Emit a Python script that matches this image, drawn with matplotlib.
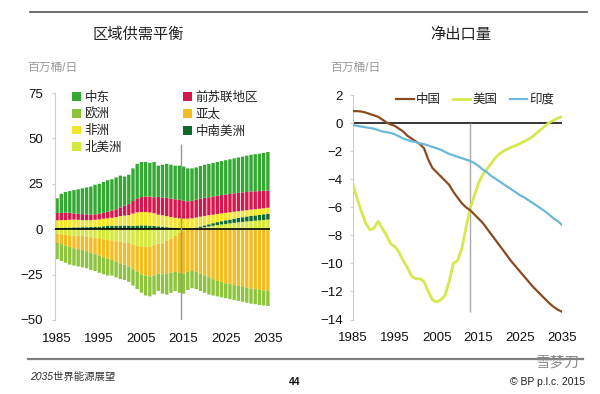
import numpy as np
import matplotlib
matplotlib.use('Agg')
import matplotlib.pyplot as plt
from matplotlib.lines import Line2D

plt.rcParams['font.family'] = ['Liberation Sans', 'Noto Sans CJK SC', 'DejaVu Sans']

years = np.arange(1985, 2036)

# 区域供需平衡 (百万桶/日), net exports (+) / net imports (-)
middle_east = [8.1, 10.5, 11.3, 12.0, 12.8, 13.5, 14.2, 14.8, 15.5, 16.3,
               16.4, 17.0, 17.4, 17.3, 17.5, 17.5, 16.0, 16.2, 18.0, 19.0,
               19.3, 19.0, 18.5, 19.4, 17.2, 18.1, 18.7, 18.7, 18.5, 18.8,
               18.9, 18.1, 17.9, 17.8, 18.0, 18.2, 18.4, 18.5, 18.6, 18.7,
               18.9, 19.1, 19.3, 19.5, 19.7, 20.0, 20.3, 20.4, 20.6, 20.8, 21.2]
fsu = [4.0, 4.0, 4.2, 3.8, 3.4, 3.3, 3.3, 3.2, 3.0, 3.0,
       3.2, 3.2, 3.6, 3.9, 4.3, 4.8, 5.5, 6.0, 6.9, 7.7,
       8.2, 8.6, 8.8, 8.8, 9.8, 9.7, 10.1, 10.1, 10.2, 10.2,
       9.8, 9.6, 9.6, 9.8, 9.9, 10.0, 9.9, 10.0, 10.0, 10.1,
       10.1, 10.1, 10.1, 10.1, 10.1, 10.0, 9.9, 9.9, 9.7, 9.7, 9.5]
africa = [4.1, 4.2, 4.1, 4.3, 4.3, 4.2, 3.9, 3.9, 3.8, 3.9,
          4.0, 4.2, 4.2, 4.4, 4.8, 5.2, 5.5, 5.8, 6.8, 7.3,
          7.4, 7.3, 7.3, 7.0, 6.4, 6.3, 6.1, 5.8, 5.6, 5.5,
          5.4, 5.5, 5.6, 5.5, 5.4, 5.2, 5.0, 4.7, 4.5, 4.3,
          4.1, 4.0, 3.8, 3.7, 3.6, 3.5, 3.5, 3.4, 3.4, 3.3, 3.3]
s_c_america = [0.8, 0.8, 0.9, 0.9, 1.0, 1.0, 1.1, 1.1, 1.2, 1.3,
               1.4, 1.6, 1.8, 1.9, 1.9, 2.0, 2.0, 2.0, 1.8, 2.0,
               2.1, 2.1, 1.9, 1.8, 1.6, 1.4, 1.1, 0.9, 0.7, 0.5,
               0.4, 0.3, 0.4, 0.6, 0.8, 1.0, 1.2, 1.4, 1.6, 1.8,
               2.0, 2.1, 2.3, 2.4, 2.6, 2.7, 2.8, 2.9, 3.0, 3.1, 3.2]
north_america = [-2.5, -2.8, -3.0, -3.4, -3.8, -3.8, -3.6, -4.0, -4.5, -5.0,
                 -5.0, -5.5, -6.0, -6.3, -6.7, -7.0, -7.5, -7.6, -8.5, -9.3,
                 -9.8, -9.9, -9.7, -8.8, -8.0, -7.8, -6.5, -5.3, -3.8, -2.0,
                 -0.8, -0.3, 0.0, 0.3, 0.7, 1.1, 1.5, 1.9, 2.3, 2.6,
                 2.9, 3.2, 3.5, 3.8, 4.0, 4.3, 4.5, 4.7, 4.9, 5.1, 5.3]
asia_pacific = [-5.0, -5.4, -6.0, -6.4, -6.7, -7.2, -7.9, -8.1, -8.5, -8.8,
                -9.5, -10.0, -10.3, -10.7, -11.3, -11.8, -12.0, -12.9, -13.5, -14.2,
                -15.2, -15.6, -16.3, -16.7, -16.5, -17.2, -18.0, -18.7, -19.7, -22.0,
                -23.7, -23.2, -23.0, -23.5, -24.5, -25.5, -26.5, -27.5, -28.5, -29.0,
                -29.8, -30.3, -30.8, -31.3, -31.8, -32.3, -32.7, -33.0, -33.4, -33.7, -34.0]
europe = [-9.0, -9.3, -9.5, -9.7, -9.5, -9.5, -9.5, -9.4, -9.5, -9.2,
          -9.5, -9.3, -9.2, -8.5, -8.5, -8.7, -8.5, -8.5, -9.0, -9.5,
          -10.0, -11.0, -11.0, -10.5, -9.5, -10.5, -11.5, -11.0, -10.5, -11.0,
          -11.0, -10.0, -9.5, -9.5, -9.5, -9.5, -9.5, -9.0, -8.5, -8.5,
          -8.2, -8.2, -8.2, -8.2, -8.2, -8.2, -8.3, -8.3, -8.3, -8.3, -8.3]

# 净出口量 (百万桶/日)
china = [0.85, 0.85, 0.82, 0.75, 0.65, 0.55, 0.45, 0.25, 0.05, -0.1,
         -0.2, -0.4, -0.6, -0.9, -1.1, -1.3, -1.5, -1.8, -2.6, -3.2,
         -3.5, -3.8, -4.1, -4.4, -4.9, -5.3, -5.7, -6.0, -6.2, -6.5,
         -6.8, -7.1, -7.5, -7.9, -8.3, -8.7, -9.1, -9.5, -9.9, -10.25,
         -10.6, -10.95, -11.3, -11.65, -11.95, -12.25, -12.55, -12.85, -13.1, -13.3, -13.45]
usa = [-4.4, -5.4, -6.3, -7.1, -7.6, -7.5, -7.0, -7.5, -8.0, -8.6,
       -8.8, -9.2, -9.8, -10.3, -10.9, -11.1, -11.1, -11.3, -12.0, -12.6,
       -12.75, -12.6, -12.3, -11.3, -10.0, -9.8, -9.0, -7.5, -6.1, -5.2,
       -4.3, -3.7, -3.3, -2.9, -2.5, -2.2, -2.0, -1.85, -1.7, -1.6,
       -1.45, -1.3, -1.15, -0.95, -0.7, -0.45, -0.2, 0.05, 0.2, 0.35, 0.45]
india = [-0.15, -0.2, -0.25, -0.3, -0.35, -0.4, -0.5, -0.6, -0.65, -0.7,
         -0.8, -0.95, -1.1, -1.2, -1.3, -1.35, -1.45, -1.5, -1.6, -1.7,
         -1.8, -1.9, -2.05, -2.2, -2.3, -2.4, -2.5, -2.6, -2.7, -2.85,
         -3.05, -3.3, -3.5, -3.75, -3.95, -4.15, -4.35, -4.55, -4.75, -4.95,
         -5.15, -5.3, -5.5, -5.7, -5.9, -6.1, -6.3, -6.55, -6.8, -7.0, -7.25]

c_me = '#35a834'
c_fsu = '#d6174e'
c_eu = '#8dc43c'
c_ap = '#f2bd22'
c_af = '#f3e52a'
c_sca = '#0f6a2e'
c_na = '#d5e83c'

fig = plt.figure(figsize=(6, 3.94), dpi=100)

# ---- left: stacked bars
ax1 = fig.add_axes([55/600, 1-320/394, 215/600, 227/394])
na = np.array(north_america)
na_pos = np.clip(na, 0, None)
na_neg = np.clip(na, None, 0)
w = 0.8

bottom = np.zeros(len(years))
handles = {}
for name, vals, col in [('北美洲', na_pos, c_na), ('中南美洲', s_c_america, c_sca),
                        ('非洲', africa, c_af), ('前苏联地区', fsu, c_fsu),
                        ('中东', middle_east, c_me)]:
    vals = np.array(vals)
    b = ax1.bar(years, vals, bottom=bottom, width=w, color=col, linewidth=0, snap=False)
    handles[name] = b
    bottom = bottom + vals

bottom = np.zeros(len(years))
for name, vals, col in [('北美洲', na_neg, c_na), ('亚太', asia_pacific, c_ap),
                        ('欧洲', europe, c_eu)]:
    vals = np.array(vals)
    b = ax1.bar(years, vals, bottom=bottom, width=w, color=col, linewidth=0, snap=False)
    if name not in handles:
        handles[name] = b
    bottom = bottom + vals

ax1.axhline(0, color='black', lw=1.2, zorder=4)
ax1.vlines(2014.5, -50, 47, color='#999999', lw=1, zorder=5)
ax1.set_xlim(1984.5, 2035.5)
ax1.set_ylim(-50, 75)
ax1.set_yticks([-50, -25, 0, 25, 50, 75])
ax1.set_xticks(range(1985, 2036, 10))

order = ['中东', '欧洲', '非洲', '北美洲', '前苏联地区', '亚太', '中南美洲']
ax1.legend([handles[k] for k in order], order, ncol=2, loc='upper left',
           bbox_to_anchor=(72/600, 1-92/394), bbox_transform=fig.transFigure,
           frameon=False, fontsize=9, handlelength=0.7, handleheight=0.7,
           handletextpad=0.3, columnspacing=4.9, labelspacing=0.36,
           borderpad=0, borderaxespad=0, labelcolor='#222222')

# ---- right: lines
ax2 = fig.add_axes([353/600, 1-319.5/394, 209/600, 224.5/394])
ax2.axhline(0, color='black', lw=1.1, zorder=1)
ax2.vlines(2013, -13.5, 0, color='#aaaaaa', lw=1, zorder=1)
ax2.plot(years, china, color='#8b4a1f', lw=1.6, label='中国', zorder=3)
ax2.plot(years, usa, color='#d6e84e', lw=2.0, label='美国', zorder=2)
ax2.plot(years, india, color='#6bb9d6', lw=1.6, label='印度', zorder=3)
ax2.set_xlim(1985, 2035)
ax2.set_ylim(-14, 2)
ax2.set_yticks(range(-14, 3, 2))
ax2.set_xticks(range(1985, 2036, 10))
ax2.legend(ncol=3, loc='upper left', bbox_to_anchor=(396/600, 1-94/394),
           bbox_transform=fig.transFigure, frameon=False, fontsize=9,
           handlelength=1.4, handletextpad=0.15, columnspacing=1.0,
           borderpad=0, borderaxespad=0, labelcolor='#222222')

for ax, ypad in [(ax1, 6.5), (ax2, 5.5)]:
    for s in ['top', 'right', 'bottom']:
        ax.spines[s].set_visible(False)
    ax.spines['left'].set_color('#cccccc')
    ax.tick_params(axis='y', length=2, color='#cccccc', pad=ypad,
                   labelsize=9.5, labelcolor='#111111')
    ax.tick_params(axis='x', length=0, pad=9, labelsize=9.5, labelcolor='#111111')

# ---- page furniture
fig.add_artist(Line2D([30/600, 587/600], [1-12/394, 1-12/394], color='#555555', lw=1.2))
fig.add_artist(Line2D([28/600, 583/600], [1-359/394, 1-359/394], color='#808080', lw=1.6))
fig.text(138/600, 1-35/394, '区域供需平衡', ha='center', va='center', fontsize=11, color='#222222')
fig.text(461/600, 1-35/394, '净出口量', ha='center', va='center', fontsize=11, color='#222222')
fig.text(27/600, 1-68/394, '百万桶/日', va='center', fontsize=8.5, color='#9a9a9a')
fig.text(330/600, 1-68/394, '百万桶/日', va='center', fontsize=8.5, color='#9a9a9a')
fig.text(30/600, 1-377/394, '2035世界能源展望', va='center', fontsize=7.5,
         style='italic', color='#333333')
fig.text(300/600, 1-382/394, '44', ha='right', va='center', fontsize=7.5,
         fontweight='bold', color='#111111')
fig.text(585/600, 1-382/394, '© BP p.l.c. 2015', ha='right', va='center',
         fontsize=7.5, color='#222222')
fig.text(580/600, 1-363/394, '雪梦刀', ha='right', va='center', fontsize=10.5, color='#8a8a8a')

fig.savefig('out.png', dpi=100)
